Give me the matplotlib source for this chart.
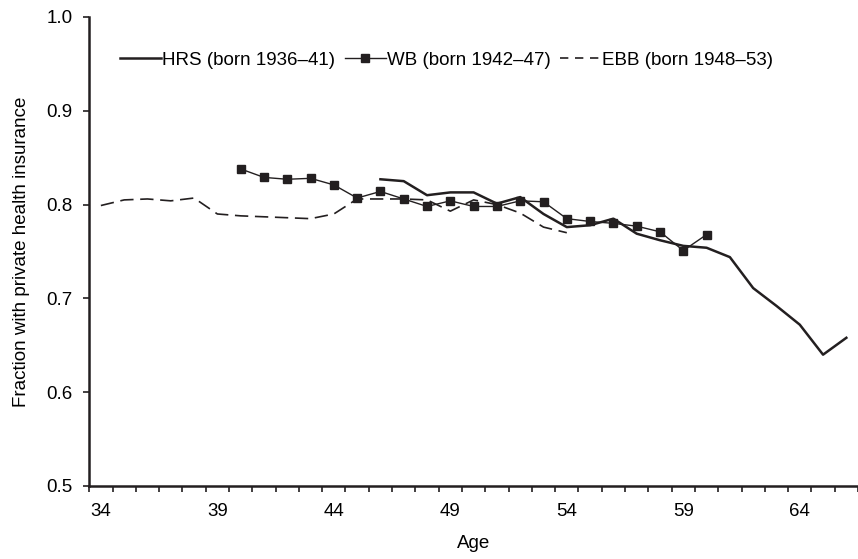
import matplotlib
matplotlib.use('Agg')
import matplotlib.pyplot as plt
import numpy as np
from matplotlib.lines import Line2D
from matplotlib.ticker import FixedLocator, FormatStrFormatter

AGES_HRS = list(range(46, 67))
HRS = [0.827, 0.825, 0.810, 0.813, 0.813, 0.801, 0.808, 0.790, 0.776, 0.778,
       0.785, 0.769, 0.762, 0.756, 0.754, 0.744, 0.711, 0.692, 0.672, 0.640,
       0.658]

AGES_WB = list(range(40, 61))
WB = [0.838, 0.829, 0.827, 0.828, 0.821, 0.807, 0.814, 0.806, 0.798, 0.804,
      0.798, 0.798, 0.804, 0.803, 0.785, 0.782, 0.780, 0.777, 0.771, 0.751,
      0.768]

AGES_EBB = list(range(34, 55))
EBB = [0.799, 0.805, 0.806, 0.804, 0.807, 0.790, 0.788, 0.787, 0.786, 0.785,
       0.790, 0.806, 0.806, 0.806, 0.805, 0.793, 0.805, 0.800, 0.791, 0.776,
       0.770]

LABELS = ['HRS (born 1936\u201341)', 'WB (born 1942\u201347)', 'EBB (born 1948\u201353)']
XTICK_AGES = [34, 39, 44, 49, 54, 59, 64]
INK = '#231f20'
FS = 13.5


def main():
    plt.rcParams['font.family'] = ['Liberation Sans', 'DejaVu Sans']
    fig = plt.figure(figsize=(8.58, 5.59), dpi=100)
    ax = fig.add_axes([0.104, 0.1306, 0.896, 0.839])

    h1, = ax.plot(AGES_HRS, HRS, color=INK, linewidth=1.8)
    h2, = ax.plot(AGES_WB, WB, color=INK, linewidth=1.0, marker='s',
                  markersize=6)
    ax.plot(AGES_EBB, EBB, color=INK, linewidth=1.2, linestyle=(0, (8, 4)))
    # legend shows shorter dashes than the plotted line
    h3 = Line2D([], [], color=INK, linewidth=1.2, linestyle=(0, (5, 4)))

    ax.set_xlim(33.5, 66.5)
    ax.set_ylim(0.5, 1.0)

    ax.xaxis.set_major_locator(FixedLocator(XTICK_AGES))
    ax.xaxis.set_minor_locator(FixedLocator(np.arange(33.5, 67, 1.0)))
    ax.tick_params(axis='x', which='major', length=0, pad=12, labelsize=FS)
    ax.tick_params(axis='x', which='minor', length=4, width=1.2, color=INK,
                   direction='out')
    ax.set_yticks(np.arange(0.5, 1.01, 0.1))
    ax.yaxis.set_major_formatter(FormatStrFormatter('%.1f'))
    ax.tick_params(axis='y', length=4, width=1.2, color=INK, labelsize=FS,
                   pad=8)

    for side in ['top', 'right']:
        ax.spines[side].set_visible(False)
    for side in ['left', 'bottom']:
        ax.spines[side].set_linewidth(1.8)
        ax.spines[side].set_color(INK)

    ax.set_xlabel('Age', fontsize=FS, labelpad=11)
    ax.set_ylabel('Fraction with private health insurance', fontsize=FS,
                  labelpad=12)

    ax.legend([h1, h2, h3], LABELS, loc='center',
              bbox_to_anchor=(0.465, 0.908), ncol=3,
              frameon=False, fontsize=FS, handlelength=2.2,
              handletextpad=0.05, columnspacing=0.5)

    fig.savefig('out.png', dpi=100)
    plt.close(fig)


if __name__ == '__main__':
    main()
